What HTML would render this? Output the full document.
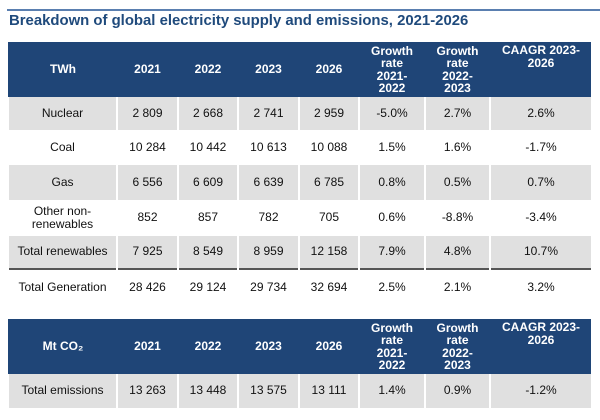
<!DOCTYPE html>
<html><head><style>
body{margin:0;background:#fff;width:600px;height:420px;overflow:hidden;font-family:"Liberation Sans",sans-serif;position:relative}
.rule{position:absolute;left:7px;top:9px;width:593px;height:2px;background:#5a7fb0}
.title{position:absolute;left:9px;top:13px;font-size:14.9px;font-weight:bold;color:#1f4a7c}
table{position:absolute;left:8px;border-collapse:collapse;table-layout:fixed;font-size:12px;color:#111}
td{text-align:center;padding:0;border-left:2px solid #fff;line-height:13.5px}
td:first-child{border-left:none}
tr.h td{background:#1f4577;color:#fff;font-weight:bold;line-height:12.5px;border-left:2px solid #1f4577}
tr.g td{background:#e0e0e0}
</style></head><body>
<div class="rule"></div>
<div class="title">Breakdown of global electricity supply and emissions, 2021-2026</div>
<table style="top:42px">
<colgroup><col style="width:108px"><col style="width:61px"><col style="width:60px"><col style="width:61px"><col style="width:60px"><col style="width:66px"><col style="width:65px"><col style="width:101px"></colgroup>
<tr class="h" style="height:55px"><td>TWh</td><td>2021</td><td>2022</td><td>2023</td><td>2026</td><td>Growth<br>rate<br>2021-<br>2022</td><td>Growth<br>rate<br>2022-<br>2023</td><td style="vertical-align:top;padding-top:2px">CAAGR 2023-<br>2026</td></tr>
<tr class="g" style="height:33px"><td>Nuclear</td><td>2 809</td><td>2 668</td><td>2 741</td><td>2 959</td><td>-5.0%</td><td>2.7%</td><td>2.6%</td></tr>
<tr style="height:35px"><td>Coal</td><td>10 284</td><td>10 442</td><td>10 613</td><td>10 088</td><td>1.5%</td><td>1.6%</td><td>-1.7%</td></tr>
<tr class="g" style="height:35px"><td>Gas</td><td>6 556</td><td>6 609</td><td>6 639</td><td>6 785</td><td>0.8%</td><td>0.5%</td><td>0.7%</td></tr>
<tr style="height:36px"><td>Other non-<br>renewables</td><td>852</td><td>857</td><td>782</td><td>705</td><td>0.6%</td><td>-8.8%</td><td>-3.4%</td></tr>
<tr class="g" style="height:33px"><td>Total renewables</td><td>7 925</td><td>8 549</td><td>8 959</td><td>12 158</td><td>7.9%</td><td>4.8%</td><td>10.7%</td></tr>
<tr style="height:36px;border-top:2px solid #555"><td>Total Generation</td><td>28 426</td><td>29 124</td><td>29 734</td><td>32 694</td><td>2.5%</td><td>2.1%</td><td>3.2%</td></tr>
</table>
<table style="top:319px">
<colgroup><col style="width:108px"><col style="width:61px"><col style="width:60px"><col style="width:61px"><col style="width:60px"><col style="width:66px"><col style="width:65px"><col style="width:101px"></colgroup>
<tr class="h" style="height:55px"><td>Mt CO₂</td><td>2021</td><td>2022</td><td>2023</td><td>2026</td><td>Growth<br>rate<br>2021-<br>2022</td><td>Growth<br>rate<br>2022-<br>2023</td><td style="vertical-align:top;padding-top:2px">CAAGR 2023-<br>2026</td></tr>
<tr class="g" style="height:34px"><td>Total emissions</td><td>13 263</td><td>13 448</td><td>13 575</td><td>13 111</td><td>1.4%</td><td>0.9%</td><td>-1.2%</td></tr>
</table>
</body></html>
